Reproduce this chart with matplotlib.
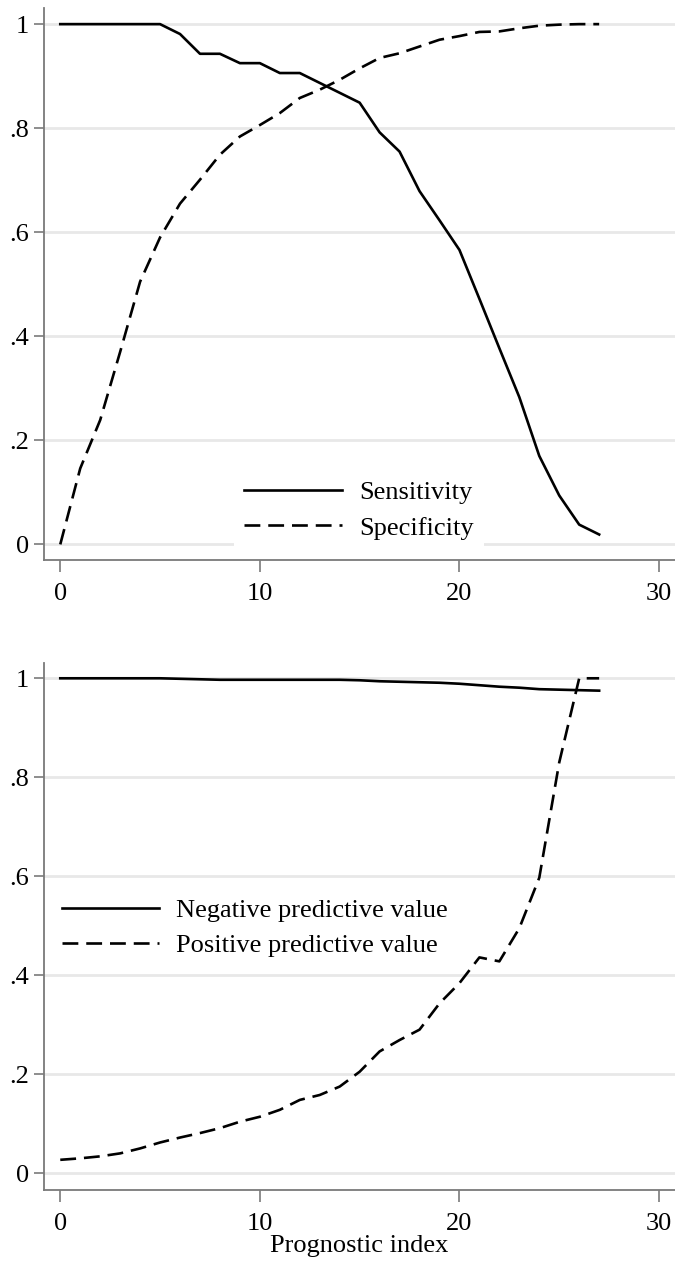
import numpy as np
import matplotlib
matplotlib.use("Agg")
import matplotlib.pyplot as plt

# prognostic index values
x = list(range(28))

sensitivity = [1.0, 1.0, 1.0, 1.0, 1.0, 1.0, 0.981, 0.943, 0.943, 0.925,
               0.925, 0.906, 0.906, 0.887, 0.868, 0.849, 0.792, 0.755,
               0.679, 0.623, 0.566, 0.472, 0.377, 0.283, 0.170, 0.094,
               0.038, 0.019]
specificity = [0.0, 0.146, 0.239, 0.370, 0.505, 0.590, 0.655, 0.701, 0.749,
               0.784, 0.806, 0.829, 0.858, 0.874, 0.893, 0.915, 0.935,
               0.944, 0.957, 0.970, 0.977, 0.985, 0.986, 0.992, 0.997,
               0.999, 1.0, 1.0]

npv = [1.0, 1.0, 1.0, 1.0, 1.0, 1.0, 0.999, 0.998, 0.997, 0.997, 0.997,
       0.997, 0.997, 0.997, 0.997, 0.996, 0.994, 0.993, 0.992, 0.991,
       0.989, 0.986, 0.983, 0.981, 0.978, 0.977, 0.976, 0.975]
ppv = [0.027, 0.030, 0.034, 0.040, 0.050, 0.062, 0.072, 0.081, 0.091,
       0.104, 0.114, 0.128, 0.148, 0.158, 0.175, 0.205, 0.246, 0.269,
       0.290, 0.343, 0.384, 0.436, 0.428, 0.495, 0.597, 0.83, 1.0, 1.0]

xticks = [0, 10, 20, 30]
yticks = [0, 0.2, 0.4, 0.6, 0.8, 1.0]
ytick_labels = ["0", ".2", ".4", ".6", ".8", "1"]

plt.rcParams['font.family'] = ['Liberation Serif', 'DejaVu Serif']
plt.rcParams['font.size'] = 19

W, H = 675, 1264
fig = plt.figure(figsize=(W / 100, H / 100), dpi=100)

axis_grey = '#7a7a7a'
grid_grey = '#e8e8e8'
dash = (0, (6, 3))
LW = 1.9


def setup_axis(ax, ylim):
    ax.set_xlim(-0.8, 30.8)
    ax.set_ylim(*ylim)
    ax.set_xticks(xticks)
    ax.set_yticks(yticks)
    ax.set_yticklabels(ytick_labels)
    ax.yaxis.grid(True, color=grid_grey, linewidth=2.0)
    ax.set_axisbelow(True)
    for side in ('top', 'right'):
        ax.spines[side].set_visible(False)
    for side in ('left', 'bottom'):
        ax.spines[side].set_color(axis_grey)
        ax.spines[side].set_linewidth(1.3)
    ax.tick_params(axis='both', color=axis_grey, width=1.2, labelsize=19)
    ax.tick_params(axis='x', length=8.5, pad=8)
    ax.tick_params(axis='y', length=7.2, pad=3.6)


def px_axes(left, top, right, bottom):
    return fig.add_axes([left / W, 1 - bottom / H,
                         (right - left) / W, (bottom - top) / H])


# --- upper panel: sensitivity / specificity ---
ax1 = px_axes(44.3, 8, 675, 560)
ax1.plot(x, sensitivity, color='black', lw=LW, label='Sensitivity')
ax1.plot(x, specificity, color='black', lw=LW, linestyle=dash,
         label='Specificity')
setup_axis(ax1, (-0.030, 1.031))
ax1.legend(loc='center', bbox_to_anchor=(0.499, 0.09),
           bbox_transform=ax1.transAxes, frameon=True,
           facecolor='white', edgecolor='none', framealpha=1,
           fancybox=False, handlelength=3.7, handletextpad=0.65,
           labelspacing=0.45, borderpad=0.4, fontsize=19)

# --- lower panel: predictive values ---
ax2 = px_axes(44.3, 662.7, 675, 1190)
ax2.plot(x, npv, color='black', lw=LW, label='Negative predictive value')
ax2.plot(x, ppv, color='black', lw=LW, linestyle=dash,
         label='Positive predictive value')
setup_axis(ax2, (-0.034, 1.0315))
ax2.set_xlabel('Prognostic index', fontsize=19, labelpad=0)
ax2.legend(loc='center', bbox_to_anchor=(0.334, 0.497),
           bbox_transform=ax2.transAxes, frameon=True,
           facecolor='white', edgecolor='none', framealpha=1,
           fancybox=False, handlelength=3.7, handletextpad=0.65,
           labelspacing=0.45, borderpad=0.4, fontsize=19)

fig.savefig('out.png', dpi=100)
